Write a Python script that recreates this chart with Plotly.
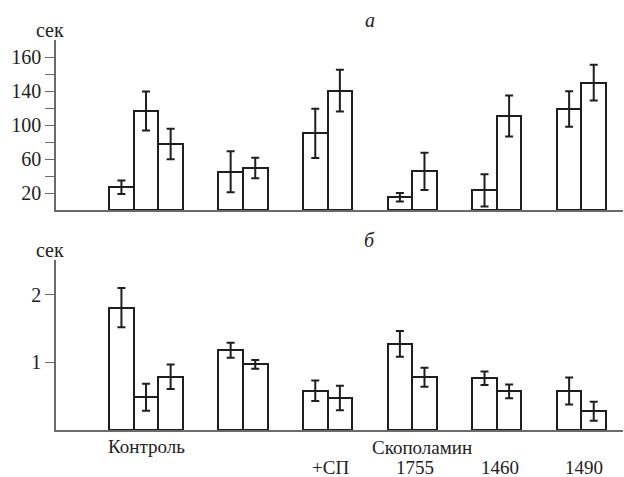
import plotly.graph_objects as go

# ---- data ----
group_sizes = [3, 2, 2, 2, 2, 2]
top_values = [26.7, 116.5, 77.6, 45, 49.4, 90.2, 140.4, 14.9, 45.5, 23.1, 110.6, 118.8, 149.8]
top_errors = [8, 23, 18, 24, 12, 29, 24.5, 5, 22, 19, 24, 21, 21]
bot_values = [1.806, 0.483, 0.787, 1.177, 0.97, 0.58, 0.473, 1.27, 0.778, 0.763, 0.57, 0.576, 0.276]
bot_errors = [0.29, 0.2, 0.18, 0.11, 0.065, 0.15, 0.18, 0.19, 0.14, 0.1, 0.1, 0.2, 0.14]
top_tickvals = [20, 40, 60, 80, 100, 120, 140, 160, 180]
top_ticktext = ["20", "", "60", "", "100", "", "140", "", "160"]
bot_tickvals = [1, 2]
bot_ticktext = ["1", "2"]
group_labels_line1 = ["Контроль", "", "", "", "", ""]
group_labels_line2 = ["", "", "+СП", "1755", "1460", "1490"]
scopolamine_label = "Скополамин"
panel_titles = ["а", "б"]
unit_label = "сек"

# ---- bar positions computed from the group structure ----
GROUP_STEP = 2.44  # centre distance between adjacent bars of neighbouring groups (in bar widths)
xpos = []
group_centers = []
cur = 0.0
for gi, n in enumerate(group_sizes):
    if gi > 0:
        cur += GROUP_STEP
    members = [cur + k for k in range(n)]
    xpos.extend(members)
    group_centers.append(sum(members) / n)
    cur = members[-1]

FONT = "'Liberation Serif', 'Times New Roman', 'DejaVu Serif', serif"
AX = "#6a6a6a"
INK = "#1e1e1e"
FS = 20
FS_X = 19

fig = go.Figure()

def add_bars(vals, errs, xa, ya):
    fig.add_trace(go.Bar(
        x=xpos, y=vals, width=1.0,
        marker=dict(color="white", line=dict(color=INK, width=2)),
        error_y=dict(type="data", array=errs, visible=True, color=INK, thickness=2, width=4),
        xaxis=xa, yaxis=ya, showlegend=False,
    ))

add_bars(top_values, top_errors, "x", "y")
add_bars(bot_values, bot_errors, "x2", "y2")

W, H = 624, 477
xr = [-2.66, 20.39]
top_dom = [1 - 210 / H, 1 - 40 / H]
bot_dom = [1 - 430 / H, 1 - 260 / H]

common_x = dict(range=xr, showline=True, linecolor=AX, linewidth=1.5, showticklabels=False,
                ticks="", showgrid=False, zeroline=False, fixedrange=True)
common_y = dict(showline=True, linecolor=AX, linewidth=1.5, ticks="outside", ticklen=9,
                tickcolor=AX, tickwidth=1.3, showgrid=False, zeroline=False,
                tickfont=dict(family=FONT, size=FS, color="#222"))

fig.update_layout(
    width=W, height=H,
    margin=dict(l=56, r=1, t=0, b=0, autoexpand=False),
    paper_bgcolor="white", plot_bgcolor="white",
    bargap=0,
    font=dict(family=FONT),
    xaxis=dict(common_x, domain=[0, 1], anchor="y"),
    yaxis=dict(common_y, domain=top_dom, range=[0, 200], tickvals=top_tickvals,
               ticktext=top_ticktext, anchor="x"),
    xaxis2=dict(common_x, domain=[0, 1], anchor="y2"),
    yaxis2=dict(common_y, domain=bot_dom, range=[0, 2.51], tickvals=bot_tickvals,
                ticktext=bot_ticktext, anchor="x2"),
)

anns = []
txtfont = dict(family=FONT, size=FS, color="#222")
xfont = dict(family=FONT, size=FS_X, color="#222")
for dom in (top_dom, bot_dom):
    anns.append(dict(text=unit_label, xref="paper", yref="paper", x=-6 / (W - 57), y=dom[1],
                     xanchor="center", yanchor="bottom", showarrow=False, font=txtfont, yshift=-3))
for dom, t in zip((top_dom, bot_dom), panel_titles):
    anns.append(dict(text="<i>" + t + "</i>", xref="x", yref="paper", x=10.1, y=dom[1],
                     xanchor="center", yanchor="bottom", showarrow=False, font=txtfont, yshift=7))
for c, l1, l2 in zip(group_centers, group_labels_line1, group_labels_line2):
    if l1:
        anns.append(dict(text=l1, xref="x2", yref="paper", x=c, y=bot_dom[0], xanchor="center",
                         yanchor="middle", showarrow=False, font=xfont, yshift=-16, borderpad=0))
    if l2:
        anns.append(dict(text=l2, xref="x2", yref="paper", x=c + 0.12, y=bot_dom[0], xanchor="center",
                         yanchor="middle", showarrow=False, font=xfont, yshift=-37, borderpad=0))
anns.append(dict(text=scopolamine_label, xref="x2", yref="paper",
                 x=group_centers[3] + 0.4, y=bot_dom[0],
                 xanchor="center", yanchor="middle", showarrow=False, font=xfont, yshift=-17,
                 borderpad=0))
fig.update_layout(annotations=anns)

fig.write_html("out.html", config={"displayModeBar": False},
               post_script="document.body.style.margin='0';document.body.style.overflow='hidden';")
